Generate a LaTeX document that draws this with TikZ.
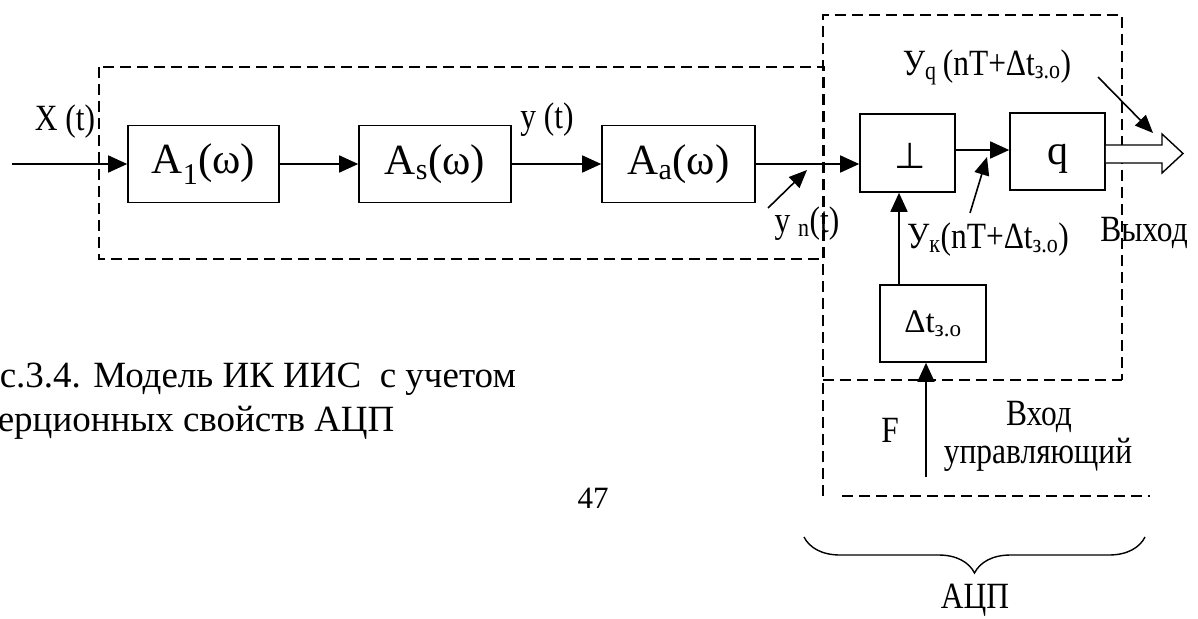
\documentclass[tikz,border=0pt]{standalone}
\usepackage{fontspec}
\setmainfont{Liberation Serif}
\newfontfamily\lblfont[FakeStretch=0.85]{Liberation Serif}
\newfontfamily\symfont{DejaVu Sans}
\usetikzlibrary{arrows.meta,decorations.pathreplacing}
\begin{document}
\begin{tikzpicture}[x=1pt,y=-1pt,
  line width=1.6pt,
  blk/.style={draw,rectangle,inner sep=0pt,font=\fontsize{43}{47}\selectfont},
  lbl/.style={inner sep=0pt,font=\lblfont\fontsize{37}{41}\selectfont},
  captxt/.style={inner sep=0pt,font=\fontsize{37}{42}\selectfont},
  dsh/.style={dash pattern=on 11pt off 6pt,line width=1.4pt},
  arr/.style={-{Triangle[length=19pt,width=17pt]}},
  sarr/.style={-{Triangle[length=18pt,width=15pt]}}
]
\useasboundingbox (0,0) rectangle (1198,618);

% dashed frames
\draw[dsh] (99,67) rectangle (824,259);
\draw[dsh] (823,496) -- (823,15) -- (1122,15) -- (1122,380);
\draw[dsh] (823,380) -- (1122,380);
\draw[dsh] (842,496) -- (1150,496);

% blocks
\node[blk,minimum width=151pt,minimum height=77pt] (A1) at (203.5,164) {A\textsubscript{1}(ω)};
\node[blk,minimum width=152pt,minimum height=77pt] (As) at (435,164) {A\textsubscript{s}(ω)};
\node[blk,minimum width=153pt,minimum height=77pt] (Aa) at (678.5,164) {A\textsubscript{a}(ω)};
\node[draw,rectangle,inner sep=0pt,minimum width=95pt,minimum height=78pt] (P) at (907.5,153) {};
\node[inner sep=0pt,font=\symfont\fontsize{36}{40}\selectfont] (Psym) at (910,156) {⊥};
\node[draw,rectangle,inner sep=0pt,minimum width=95pt,minimum height=77pt] (Q) at (1057.5,151.5) {};
\node[inner sep=0pt,anchor=base,font=\fontsize{42}{46}\selectfont] (Qsym) at (1057.5,164) {q};
\node[blk,minimum width=106pt,minimum height=77pt,font=\fontsize{33}{37}\selectfont] (D) at (933,323.5) {Δt\textsubscript{з.о}};

% coordinates
\coordinate (xin) at (12,164);
\coordinate (fin) at (926,477);
\coordinate (yn1) at (768,208);
\coordinate (yn2) at (807,170);
\coordinate (yk1) at (970,213);
\coordinate (yk2) at (987,157);
\coordinate (yq1) at (1098,77);
\coordinate (yq2) at (1153,133);

% connectors
\draw[arr] (xin) -- (A1.west);
\draw[arr] (A1.east) -- (As.west);
\draw[arr] (As.east) -- (Aa.west);
\draw[arr] (Aa.east) -- (Aa.east -| P.west);
\draw[arr] (P.east |- 0,150) -- (Q.west |- 0,150);
\draw[arr] (899,0 |- D.north) -- (899,0 |- P.south);
\draw[arr] (fin) -- (fin |- D.south);
\draw[sarr] (yn1) -- (yn2);
\draw[sarr] (yk1) -- (yk2);
\draw[sarr] (yq1) -- (yq2);

% hollow output arrow
\draw[line width=1.4pt,fill=white] (Q.east |- 0,145) -- (1162,145) -- (1162,134) -- (1183,153.5) -- (1162,173) -- (1162,163) -- (Q.east |- 0,163);

% labels
\node[lbl] (lx) at (65,122) {X (t)};
\node[lbl] (ly) at (547,120) {y (t)};
\node[lbl] (lyn) at (807,224) {y \textsubscript{n}(t)};
\node[lbl] (lyq) at (987,67) {У\textsubscript{q}\,(nT+Δt\textsubscript{з.о})};
\node[lbl] (lyk) at (988,240) {У\textsubscript{к}(nT+Δt\textsubscript{з.о})};
\node[lbl] (lout) at (1144,233) {Выход};
\node[lbl] (lf) at (890,430) {F};
\node[lbl] (lin1) at (1039,417) {Вход};
\node[lbl] (lin2) at (1038,455) {управляющий};

% brace
\draw[line width=1.4pt,decorate,decoration={brace,mirror,amplitude=36pt}] (804,537) -- (1145,537);
\node[lbl] (adc) at (975,600) {АЦП};

% caption
\node[captxt,anchor=base west] (cap1) at (-1,387) {с.3.4. Модель ИК ИИС\ \ с учетом};
\node[captxt,anchor=base west] (cap2) at (-3,431) {ерционных свойств АЦП};
\node[inner sep=0pt,font=\fontsize{31}{35}\selectfont] (pg) at (593,498) {47};
\end{tikzpicture}
\end{document}
